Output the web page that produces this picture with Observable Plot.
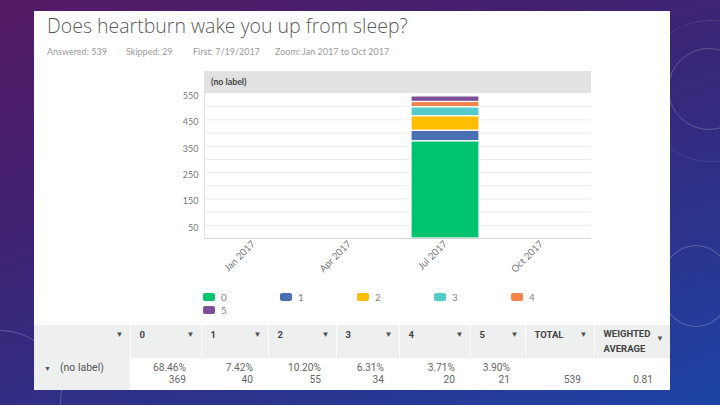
<!DOCTYPE html>
<html><head><meta charset="utf-8">
<script src="https://cdn.jsdelivr.net/npm/d3@7"></script>
<script src="https://cdn.jsdelivr.net/npm/@observablehq/plot@0.6"></script>
<style>
html,body{margin:0;padding:0;width:720px;height:405px;overflow:hidden}
body{position:relative;font-family:Lato,"Open Sans",sans-serif;
 background:linear-gradient(160deg,#561a66 0%,#42206e 30%,#2f2f86 65%,#1d44a6 100%);}
.ring{position:absolute;border-radius:50%;border:1px solid rgba(255,255,255,0.22)}
#panel{position:absolute;left:34px;top:11px;width:636px;height:379px;background:#fff}
#title{position:absolute;left:47px;top:12px;font-family:"Open Sans",Lato,sans-serif;font-weight:300;font-size:19.5px;color:#5a5a5a;white-space:nowrap}
#meta{position:absolute;left:47px;top:46px;font-size:9px;color:#9a9a9a;white-space:nowrap}
#meta span{position:absolute;top:0}
#band{position:absolute;left:204px;top:71px;width:380px;height:22px;padding-left:7px;background:#e2e2e2;font-size:8.8px;font-weight:bold;color:#444;line-height:22px}
#chart{position:absolute;left:0;top:83px}
#chart svg{overflow:visible}
#legend{position:absolute;left:203px;top:290px;width:390px;display:flex;flex-wrap:wrap}
.li{width:77px;height:13.5px;display:flex;align-items:center;font-size:9.8px;color:#858585}
.sw{width:12px;height:8px;border-radius:2px;margin-right:6px}
#tbl{position:absolute;left:34px;top:325px;width:636px;border-collapse:collapse;table-layout:fixed;font-family:Roboto,Lato,sans-serif}
#tbl th{background:#eef0f0;height:33px;padding:3px 0 0 9px;box-sizing:border-box;vertical-align:top;text-align:left;font-size:9.5px;font-weight:bold;color:#444;line-height:14px;position:relative;border-right:1.5px solid #fff}
#tbl th:last-child{border-right:none}
#tbl td{height:32px;padding:4px 15px 0 0;box-sizing:border-box;vertical-align:top;text-align:right;font-size:10.2px;color:#666;line-height:12px;background:#fff}
#tbl td.lab{background:#eef0f0;text-align:left;padding-left:10px;font-size:10.5px;color:#555}
.caret{position:absolute;right:6px;top:3px;font-size:8px;color:#555}
</style></head>
<body>
<div class="ring" style="left:668px;top:48px;width:80px;height:80px"></div>
<div class="ring" style="left:640px;top:20px;width:140px;height:140px;border-style:dotted"></div>
<div class="ring" style="left:660px;top:245px;width:70px;height:80px"></div>
<div class="ring" style="left:-60px;top:330px;width:120px;height:120px"></div>
<div id="panel"></div>
<div id="title"></div>
<div id="meta"></div>
<div id="band">(no label)</div>
<div id="chart"></div>
<div id="legend"></div>
<table id="tbl"></table>
<script>
const titleText = "Does heartburn wake you up from sleep?";
const metaItems = ["Answered: 539","Skipped: 29","First: 7/19/2017","Zoom: Jan 2017 to Oct 2017"];
const quarters = ["Jan 2017","Apr 2017","Jul 2017","Oct 2017"];
const responseQuarter = "Jul 2017";
const answers = ["0","1","2","3","4","5"];
const counts = [369,40,55,34,20,21];
const percents = ["68.46%","7.42%","10.20%","6.31%","3.71%","3.90%"];
const total = 539;
const weightedAverage = "0.81";
const rowLabel = "(no label)";
const yTickValues = [50,150,250,350,450,550];
const gridValues = [50,100,150,200,250,300,350,400,450,500];
const colors = ["#00c470","#4a70b3","#fdbd00","#53cbcb","#f5834b","#7c4f98"];

document.getElementById("title").textContent = titleText;
const metaLeft = [0,79,146,228];
const meta = document.getElementById("meta");
metaItems.forEach((t,i)=>{const s=document.createElement("span");s.textContent=t;s.style.left=metaLeft[i]+"px";meta.appendChild(s);});

const rows = answers.map((a,i)=>({quarter:responseQuarter, answer:a, count:counts[i]}));

const chart = Plot.plot({
  width:720, height:205, marginLeft:204, marginRight:129, marginTop:10, marginBottom:50,
  style:{background:"transparent", fontFamily:"Lato, sans-serif", fontSize:"9px", color:"#777"},
  x:{type:"band", domain:quarters, paddingInner:0.287, paddingOuter:0.1435, label:null},
  y:{domain:[0,550], label:null},
  color:{domain:answers, range:colors},
  marks:[
    Plot.ruleY(gridValues,{stroke:"#ebebeb"}),
    Plot.barY(rows,{x:"quarter", y:"count", fill:"answer", stroke:"white", strokeWidth:1.2}),
    Plot.axisY(yTickValues,{tickSize:0, tickPadding:6, dy:2.4, fill:"#777", label:null}),
    Plot.axisX({tickSize:0, tickRotate:-45, tickPadding:4, fontSize:9.6, fill:"#777", label:null}),
    Plot.ruleY([0],{stroke:"#d4d4d4"}),
    Plot.frame({anchor:"left", stroke:"#dedede"})
  ]
});
document.getElementById("chart").appendChild(chart);

const legend = document.getElementById("legend");
answers.forEach((a,i)=>{
  const d=document.createElement("div");d.className="li";
  d.innerHTML=`<span class="sw" style="background:${colors[i]}"></span>${a}`;
  legend.appendChild(d);
});

const colW=[96,71,67,68,63,71,55,69,76];
const tbl=document.getElementById("tbl");
let html="<colgroup>"+colW.map(w=>`<col style="width:${w}px">`).join("")+"</colgroup>";
const heads=["",...answers,"TOTAL","WEIGHTED<br>AVERAGE"];
html+="<tr>"+heads.map((h,i)=>{
  const last=i===heads.length-1;
  const st=last?' style="padding-top:1px;line-height:15px"':'';
  const cst=last?' style="top:6px"':'';
  return `<th${st}>${h}<span class="caret"${cst}>▼</span></th>`;
}).join("")+"</tr>";
html+=`<tr><td class="lab"><span style="font-size:7px;color:#555;margin-right:9px">▼</span>${rowLabel}</td>`;
html+=answers.map((a,i)=>`<td>${percents[i]}<br>${counts[i]}</td>`).join("");
html+=`<td style="padding-right:13px">&nbsp;<br>${total}</td><td style="padding-right:17px">&nbsp;<br>${weightedAverage}</td></tr>`;
tbl.innerHTML=html;
</script>
</body></html>
